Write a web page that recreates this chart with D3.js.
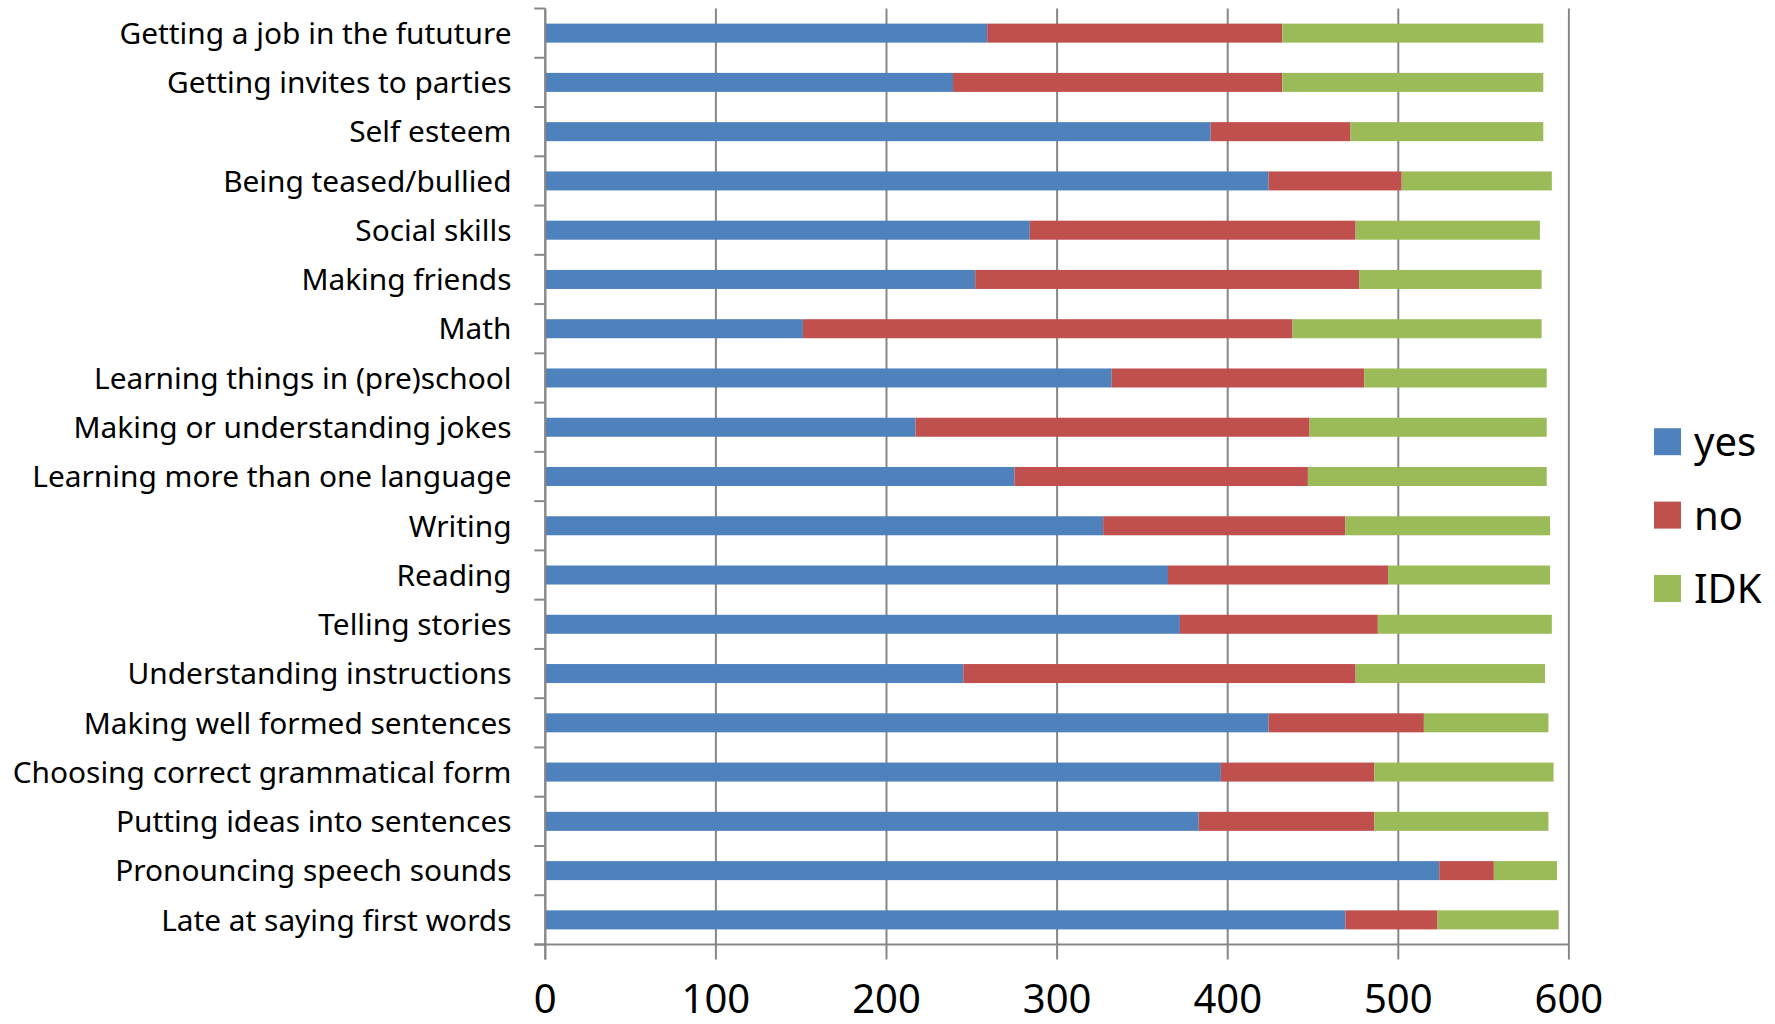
<!DOCTYPE html>
<html><head><meta charset="utf-8">
<script src="https://cdn.jsdelivr.net/npm/d3@7"></script>
<style>
html,body{margin:0;padding:0;background:#fff;}
svg{display:block;}
text{font-family:"Noto Sans","Open Sans",sans-serif;fill:#000;}
</style></head>
<body><svg id="chart" width="1775" height="1024"></svg>
<script>
const categories = [
  "Getting a job in the fututure",
  "Getting invites to parties",
  "Self esteem",
  "Being teased/bullied",
  "Social skills",
  "Making friends",
  "Math",
  "Learning things in (pre)school",
  "Making or understanding jokes",
  "Learning more than one language",
  "Writing",
  "Reading",
  "Telling stories",
  "Understanding instructions",
  "Making well formed sentences",
  "Choosing correct grammatical form",
  "Putting ideas into sentences",
  "Pronouncing speech sounds",
  "Late at saying first words"
];
const yesVals = [259, 239, 390, 424, 284, 252, 151, 332, 217, 275, 327, 365, 372, 245, 424, 396, 383, 524, 469];
const noVals  = [173, 193,  82,  78, 191, 225, 287, 148, 231, 172, 142, 129, 116, 230,  91,  90, 103,  32,  54];
const idkVals = [153, 153, 113,  88, 108, 107, 146, 107, 139, 140, 120,  95, 102, 111,  73, 105, 102,  37,  71];
const seriesNames = ["yes", "no", "IDK"];
const seriesColors = ["#4F81BD", "#C0504D", "#9BBB59"];
const xTicks = [0, 100, 200, 300, 400, 500, 600];

(function(){
const svg = d3.select("#chart");
const pLeft = 545.3, pRight = 1568.9, pTop = 8.5, pBottom = 944.5;
const x = d3.scaleLinear().domain([0, 600]).range([pLeft, pRight]);
const y = d3.scaleBand().domain(categories).range([pTop, pBottom])
  .paddingInner(0.614).paddingOuter(0.307).align(0.5);
const step = y.step();
const gridColor = "#878787";

// gridlines incl. bottom ticks
svg.append("g").selectAll("line").data(xTicks).join("line")
  .attr("x1", d => x(d)).attr("x2", d => x(d))
  .attr("y1", pTop).attr("y2", pBottom + 15)
  .attr("stroke", gridColor).attr("stroke-width", 2);

// stacked data
const rows = categories.map((c, i) => ({c, vals: [yesVals[i], noVals[i], idkVals[i]]}));
const stack = d3.stack().keys([0, 1, 2]).value((d, k) => d.vals[k]);
const stacked = stack(rows);

svg.append("g").selectAll("g").data(stacked).join("g")
  .attr("fill", (d, i) => seriesColors[i])
  .selectAll("rect").data(d => d).join("rect")
  .attr("x", d => x(d[0]))
  .attr("width", d => x(d[1]) - x(d[0]))
  .attr("y", d => y(d.data.c))
  .attr("height", y.bandwidth());

// axes lines
svg.append("line").attr("x1", pLeft).attr("x2", pLeft).attr("y1", pTop).attr("y2", pBottom + 15)
  .attr("stroke", gridColor).attr("stroke-width", 2);
svg.append("line").attr("x1", pLeft - 11).attr("x2", pRight).attr("y1", pBottom).attr("y2", pBottom)
  .attr("stroke", gridColor).attr("stroke-width", 2);
// category ticks at band boundaries
const bounds = categories.map(c => y(c) - y.paddingInner() * step / 2);
bounds.push(pBottom);
svg.append("g").selectAll("line").data(bounds).join("line")
  .attr("x1", pLeft - 11).attr("x2", pLeft)
  .attr("y1", d => d).attr("y2", d => d)
  .attr("stroke", gridColor).attr("stroke-width", 2);

// category labels
const labs = svg.append("g").selectAll("text").data(categories).join("text")
  .attr("text-anchor", "end")
  .attr("x", 511.5)
  .attr("font-size", 30)
  .text(d => d);
let refW = 0;
labs.each(function(d){ if (d === "Choosing correct grammatical form") refW = this.getComputedTextLength(); });
const fs = 30 * 499 / refW;
labs.attr("font-size", fs)
  .attr("y", d => y(d) + y.bandwidth() / 2 + fs * 0.36);

// x tick labels
svg.append("g").selectAll("text").data(xTicks).join("text")
  .attr("x", d => x(d)).attr("y", 1013)
  .attr("text-anchor", "middle").attr("font-size", 40)
  .text(d => d);

// legend
const lg = svg.append("g").selectAll("g").data(seriesNames).join("g")
  .attr("transform", (d, i) => `translate(1654, ${441.7 + i * 73.4})`);
lg.append("rect").attr("x", 0).attr("y", -13.5).attr("width", 27).attr("height", 27)
  .attr("fill", (d, i) => seriesColors[i]);
lg.append("text").attr("x", 40).attr("y", 14.5).attr("font-size", 40).text(d => d);
})();
</script>
</body></html>
